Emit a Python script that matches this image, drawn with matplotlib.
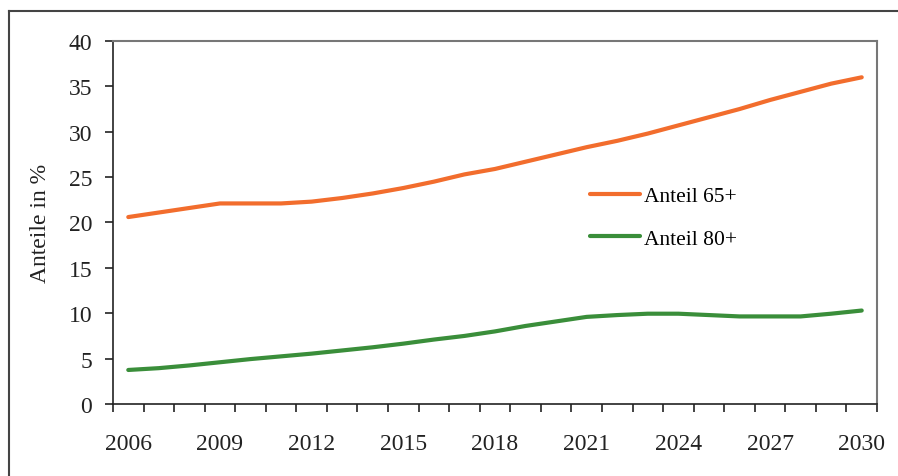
import numpy as np
import matplotlib.pyplot as plt
from matplotlib.lines import Line2D

jahre = list(range(2006, 2031))
anteil_65 = [20.6, 21.1, 21.6, 22.1, 22.1, 22.1, 22.3, 22.7, 23.2, 23.8,
             24.5, 25.3, 25.9, 26.7, 27.5, 28.3, 29.0, 29.8, 30.7, 31.6,
             32.5, 33.5, 34.4, 35.3, 36.0]
anteil_80 = [3.75, 3.95, 4.25, 4.6, 4.95, 5.25, 5.55, 5.9, 6.25, 6.65,
             7.1, 7.5, 8.0, 8.6, 9.1, 9.6, 9.8, 9.95, 9.95, 9.8,
             9.65, 9.65, 9.65, 9.95, 10.3]
namen = ["Anteil 65+", "Anteil 80+"]
farben = ["#f26d2d", "#3a8e3a"]

W, H = 898, 477
plt.rcParams['font.family'] = ['Liberation Serif', 'DejaVu Serif']

fig = plt.figure(figsize=(W / 100, H / 100), dpi=100)
ax = fig.add_axes([113 / W, 1 - 405 / H, (877 - 113) / W, (405 - 42) / H])

x = np.arange(len(jahre))
for werte, name, farbe in zip([anteil_65, anteil_80], namen, farben):
    ax.plot(x, werte, color=farbe, lw=3, label=name, solid_capstyle='round')

ax.set_xlim(-0.5, len(jahre) - 0.5)
ax.set_ylim(0, 40)
ax.set_yticks(range(0, 41, 5))
ax.set_xticks(x[::3])
ax.set_xticklabels([str(j) for j in jahre[::3]])
ax.set_xticks(np.arange(-0.5, len(jahre), 1), minor=True)
ax.tick_params(axis='x', which='major', length=0, pad=21, labelsize=17,
               labelcolor='#222222')
ax.tick_params(axis='x', which='minor', length=6, width=1.2, direction='out',
               color='#222222')
ax.tick_params(axis='y', length=6, width=1.2, pad=9, labelsize=17,
               labelcolor='#222222', color='#222222')

for s in ['top', 'right']:
    ax.spines[s].set_color('#777777')
    ax.spines[s].set_linewidth(1.5)
for s in ['left', 'bottom']:
    ax.spines[s].set_color('#222222')
    ax.spines[s].set_linewidth(1.2)

ax.set_ylabel("Anteile in %", fontsize=17, color='#222222')
ax.yaxis.set_label_coords(-0.081, 0.5)

ax.legend(loc='upper left', bbox_to_anchor=((590 - 113) / 764, (405 - 187) / 363),
          frameon=False, fontsize=15.5, handlelength=2.3, handletextpad=0.2,
          borderpad=0, borderaxespad=0, labelspacing=1.05)

# Rahmen um das Diagramm (nur oben und links sichtbar)
fig.add_artist(Line2D([9 / W, 1], [1 - 12 / H, 1 - 12 / H], color='#444444',
                      lw=1.5, transform=fig.transFigure))
fig.add_artist(Line2D([9 / W, 9 / W], [0, 1 - 12 / H], color='#444444',
                      lw=1.5, transform=fig.transFigure))

fig.savefig("out.png", dpi=100)
